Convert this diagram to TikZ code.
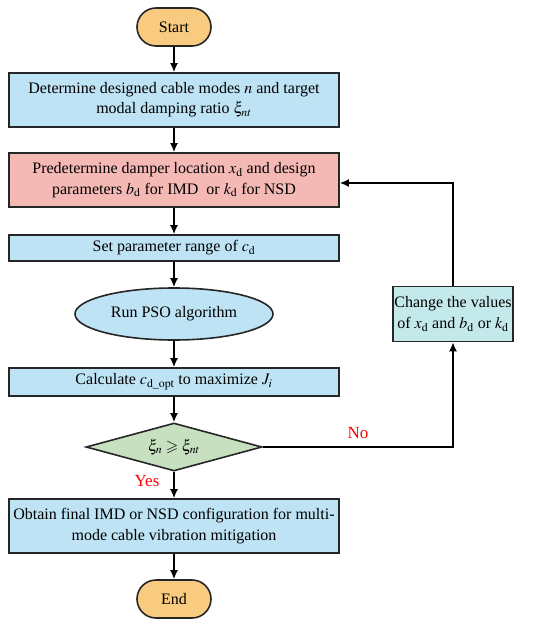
\documentclass[tikz,border=0pt]{standalone}
\usepackage{amsmath}
\usepackage{amssymb}
\usepackage{mathptmx}
\usepackage{fontspec}
\setmainfont{Liberation Serif}
\usepackage{tikz}
\usetikzlibrary{shapes.geometric}
\usetikzlibrary{shapes.misc}
\usetikzlibrary{arrows.meta}
\tikzset{>={Latex[length=9pt,width=8pt]}}
\definecolor{boxblue}{HTML}{BEE3F5}
\definecolor{boxred}{HTML}{F5B9B5}
\definecolor{boxorange}{HTML}{F8CB80}
\definecolor{boxgreen}{HTML}{C6E0C0}
\definecolor{boxteal}{HTML}{C3E9EA}
\tikzset{
  procbox/.style={draw=black!85, line width=1.6pt, fill=boxblue, minimum width=330pt, align=center, inner sep=0pt},
  termnode/.style={draw=black!85, line width=1.6pt, fill=boxorange, rounded rectangle, minimum width=74pt, minimum height=38pt, inner sep=0pt},
  flow/.style={->, line width=1.6pt},
  answer/.style={text=red, font=\fontsize{17}{19}\selectfont}
}

\begin{document}
\begin{tikzpicture}[x=1pt,y=-1pt,font=\fontsize{16}{20.5}\selectfont]
    \useasboundingbox (0,0) rectangle (550,628);
    \node[termnode] (start) at (174,27) {Start};
    \node[procbox, minimum height=54pt] (modes) at (174,100) {Determine designed cable modes $n$ and target\\ modal damping ratio $\xi_{nt}$};
    \node[procbox, minimum height=54pt, fill=boxred] (predet) at (174,180) {Predetermine damper location $x_{\mathrm{d}}$ and design\\ parameters $b_{\mathrm{d}}$ for IMD~ or $k_{\mathrm{d}}$ for NSD};
    \node[procbox, minimum height=26pt] (range) at (174,248) {Set parameter range of $c_{\mathrm{d}}$};
    \node[draw=black!85, line width=1.6pt, fill=boxblue, ellipse, minimum width=198pt, minimum height=52pt, inner sep=0pt] (pso) at (174,314) {Run PSO algorithm};
    \node[procbox, minimum height=28pt] (calc) at (174,382) {Calculate $c_{\mathrm{d\_opt}}$ to maximize $J_i$};
    \node[draw=black!85, line width=1.6pt, fill=boxgreen, diamond, aspect=3.67, minimum width=176pt, minimum height=48pt, inner sep=0pt] (check) at (174,447) {$\xi_n\geqslant\xi_{nt}$};
    \node[procbox, minimum height=54pt] (final) at (174,526) {Obtain final IMD or NSD configuration for multi-\\mode cable vibration mitigation};
    \node[termnode] (end) at (174,599) {End};
    \node[draw=black!85, line width=1.6pt, fill=boxteal, minimum width=120pt, minimum height=55pt, align=center, inner sep=0pt] (change) at (453,314) {Change the values\\ of $x_{\mathrm{d}}$ and $b_{\mathrm{d}}$ or $k_{\mathrm{d}}$};

    \draw[flow] (start) -- (modes);
    \draw[flow] (modes) -- (predet);
    \draw[flow] (predet) -- (range);
    \draw[flow] (range) -- (pso);
    \draw[flow] (pso) -- (calc);
    \draw[flow] (calc) -- (check);
    \draw[flow] (check) -- (final);
    \draw[flow] (final) -- (end);
    \draw[flow] (check.east) -| (change.south);
    \draw[flow] (change.north) |- ([yshift=-3pt]predet.east);
    \node[answer] (no) at (358,433) {No};
    \node[answer] (yes) at (147,481) {Yes};
\end{tikzpicture}
\end{document}
